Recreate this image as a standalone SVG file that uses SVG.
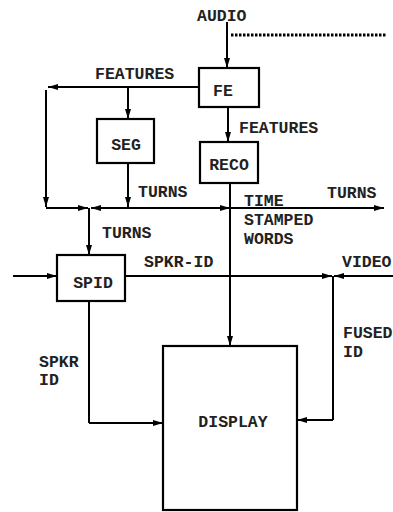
<svg xmlns="http://www.w3.org/2000/svg" width="393" height="512" viewBox="0 0 393 512">
<defs>
<marker id="ah" viewBox="0 0 10 6" refX="10" refY="3" markerWidth="10" markerHeight="6" markerUnits="userSpaceOnUse" orient="auto">
<path d="M0,0 L10,3 L0,6 Z" fill="#000"/>
</marker>
</defs>
<style>
.b{fill:#fff;stroke:#000;stroke-width:2.2}
.l{fill:none;stroke:#000;stroke-width:2}
.a{fill:none;stroke:#000;stroke-width:2;marker-end:url(#ah)}
text{font-family:"Liberation Mono","Courier New",monospace;font-weight:bold;font-size:16.5px;fill:#222}
.c{text-anchor:middle}
</style>
<rect width="393" height="512" fill="#fff"/>
<g id="connectors">
<path class="a" d="M227,22 V68"/>
<path class="l" d="M231,35 H386" stroke-dasharray="2.5,1.5" style="stroke-width:3"/>
<path class="a" d="M199,87 H48"/>
<path class="a" d="M128,87 V119"/>
<path class="a" d="M46,90 V207"/>
<path class="a" d="M228,107 V142"/>
<path class="a" d="M128,163 V207"/>
<path class="a" d="M46,208 H88"/>
<path class="a" d="M230,208 H91"/>
<path class="a" d="M91,208 H230"/>
<path class="a" d="M230,208 H384"/>
<path class="a" d="M89,208 V255"/>
<path class="a" d="M230,184 V346"/>
<path class="a" d="M13,276 H57"/>
<path class="a" d="M125,276 H332"/>
<path class="a" d="M393,276 H334"/>
<path class="l" d="M333,276 V420"/>
<path class="a" d="M333,420 H297"/>
<path class="l" d="M89,301 V423"/>
<path class="a" d="M89,423 H163"/>
</g>
<g id="FE"><rect class="b" x="199" y="68" width="60" height="39"/><text x="223" y="96" class="c">FE</text></g>
<g id="SEG"><rect class="b" x="97" y="119" width="57" height="44"/><text x="126" y="150" class="c">SEG</text></g>
<g id="RECO"><rect class="b" x="200" y="142" width="58" height="41"/><text x="229" y="170" class="c">RECO</text></g>
<g id="SPID"><rect class="b" x="57" y="255" width="68" height="46"/><text x="93" y="288" class="c">SPID</text></g>
<g id="DISPLAY"><rect class="b" x="163" y="346" width="134" height="164"/><text x="233" y="427" class="c">DISPLAY</text></g>
<g id="labels">
<text x="197" y="21">AUDIO</text>
<text x="95" y="79">FEATURES</text>
<text x="239" y="133">FEATURES</text>
<text x="138" y="197">TURNS</text>
<text x="327" y="198">TURNS</text>
<text x="244" y="206">TIME</text>
<text x="244" y="225">STAMPED</text>
<text x="244" y="244">WORDS</text>
<text x="102" y="238">TURNS</text>
<text x="144" y="267">SPKR-ID</text>
<text x="342" y="267">VIDEO</text>
<text x="343" y="338">FUSED</text>
<text x="343" y="357">ID</text>
<text x="39" y="367">SPKR</text>
<text x="39" y="385">ID</text>
</g>
</svg>
